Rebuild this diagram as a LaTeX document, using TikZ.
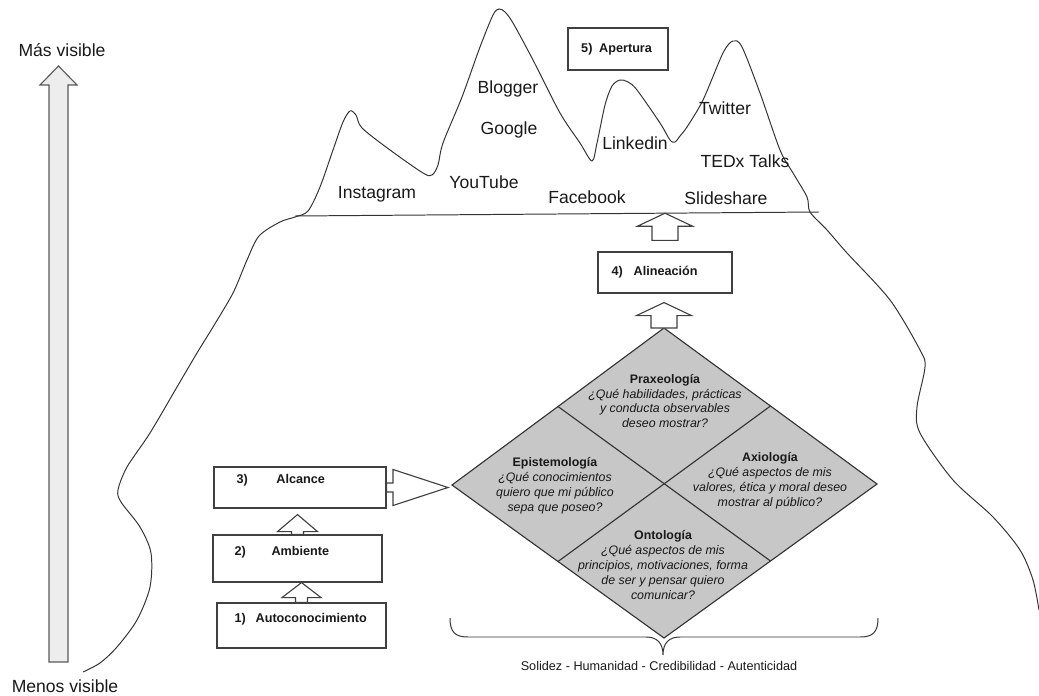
\documentclass[tikz,border=0pt]{standalone}
\usepackage{fontspec}
\setmainfont{Liberation Sans}
\usetikzlibrary{calc}

% block arrows: [style] base, tip, shaft half width, head half width, head length (px)
\newcommand{\blockup}[6][]{%
  \draw[blockarr,#1] let \p1=(#2), \p2=(#3), \n1={0.025cm} in
    (\x1-#4*\n1,\y1) -- (\x1-#4*\n1,\y2-#6*\n1) -- (\x1-#5*\n1,\y2-#6*\n1) -- (\x1,\y2)
    -- (\x1+#5*\n1,\y2-#6*\n1) -- (\x1+#4*\n1,\y2-#6*\n1) -- (\x1+#4*\n1,\y1) -- cycle;}
\newcommand{\blockright}[6][]{%
  \draw[blockarr,#1] let \p1=(#2), \p2=(#3), \n1={0.025cm} in
    (\x1,\y1+#4*\n1) -- (\x2-#6*\n1,\y1+#4*\n1) -- (\x2-#6*\n1,\y1+#5*\n1) -- (\x2,\y1)
    -- (\x2-#6*\n1,\y1-#5*\n1) -- (\x2-#6*\n1,\y1-#4*\n1) -- (\x1,\y1-#4*\n1) -- cycle;}

\begin{document}
\begin{tikzpicture}[x=0.025cm, y=-0.025cm,
    outline/.style={draw=black!80, line width=0.7pt},
    stage/.style={draw=black!75, line width=0.8pt, fill=white},
    steplab/.style={anchor=base west, inner sep=0pt, text=black!90, font=\fontsize{9}{11}\selectfont\bfseries},
    site/.style={text=black!90, font=\fontsize{12.5}{15}\selectfont},
    quad/.style={align=center, inner sep=0pt, text=black!90, font=\fontsize{8.8}{10.6}\selectfont\itshape},
    blockarr/.style={draw=black!75, line width=0.8pt, fill=white, line join=miter}]
  \useasboundingbox (0,0) rectangle (1039,696);

  % iceberg
  \draw[outline] plot[smooth, tension=0.5] coordinates {
    (83,672) (100,663) (117,647) (137,620) (150,587) (151,553) (140,527) (121,502)
    (118,490) (127,467) (150,433) (177,387) (197,353) (213,327) (233,293) (247,260)
    (259,236) (280,222) (295,217) (308,211) (320,187) (333,150) (343,122) (350,111)
    (356,115) (362,128) (390,150) (423,173) (432,175) (438,165) (443,143) (462,97)
    (480,47) (493,15) (499,9) (505,12) (513,23) (533,60) (560,113) (580,143) (592,161)
    (597,143) (605,105) (612,86) (620,80) (628,82) (637,90) (660,123) (670,140)
    (675,142) (680,136) (687,127) (703,100) (723,53) (733,41) (742,47) (760,93)
    (780,150) (793,173) (807,197) (810,212) (827,230) (847,253) (890,300) (920,350)
    (925,367) (917,407) (920,433) (953,480) (993,517) (1020,550) (1033,580) (1039,610)};
  \coordinate (wlA) at (295,216);
  \coordinate (wlB) at (819,212);
  \coordinate (sea) at (664,213.2);
  \draw[outline] (wlA) -- (wlB);

  \node[site] (insta) at (377,194) {Instagram};
  \node[site] (yt) at (484,182) {YouTube};
  \node[site] (blog) at (508,89) {Blogger};
  \node[site] (goog) at (509,130) {Google};
  \node[site] (fb) at (587,197) {Facebook};
  \node[site] (lin) at (635,143) {Linkedin};
  \node[site] (tw) at (725,108) {Twitter};
  \node[site] (ted) at (745,161) {TEDx Talks};
  \node[site] (slide) at (726,198) {Slideshare};

  % stages
  \node[stage, minimum width=4.225cm, minimum height=1.125cm] (b1) at (301.5,625.5) {};
  \node[stage, minimum width=4.225cm, minimum height=1.175cm] (b2) at (297.5,558.5) {};
  \node[stage, minimum width=4.3cm, minimum height=1.025cm] (b3) at (300,487.5) {};
  \node[stage, minimum width=3.35cm, minimum height=1.025cm] (b4) at (665,272.5) {};
  \node[stage, minimum width=2.5cm, minimum height=1.05cm] (b5) at (618,49) {};
  \node[steplab] (b1t) at ($(b1.north west)+(18,20.5)$) {1)\hspace{6.9pt}Autoconocimiento};
  \node[steplab] (b2t) at ($(b2.north west)+(22,21.5)$) {2)\hspace{18.2pt}Ambiente};
  \node[steplab] (b3t) at ($(b3.north west)+(23,17.5)$) {3)\hspace{20.3pt}Alcance};
  \node[steplab] (b4t) at ($(b4.north west)+(14,24)$) {4)\hspace{7.6pt}Alineación};
  \node[steplab] (b5t) at ($(b5.north west)+(13.5,25.5)$) {5)\hspace{4.8pt}Apertura};

  % diamond
  \coordinate (dT) at (664,328);
  \coordinate (dR) at (877,484);
  \coordinate (dB) at (664,638);
  \coordinate (dL) at (452,485);
  \filldraw[draw=black!80, line width=0.8pt, fill=black!22] (dT) -- (dR) -- (dB) -- (dL) -- cycle;
  \draw[draw=black!80, line width=0.8pt] ($(dT)!0.5!(dL)$) -- ($(dR)!0.5!(dB)$);
  \draw[draw=black!80, line width=0.8pt] ($(dT)!0.5!(dR)$) -- ($(dL)!0.5!(dB)$);
  \node[quad] (prax) at (665,401) {\textbf{\upshape Praxeología}\\¿Qué habilidades, prácticas\\y conducta observables\\deseo mostrar?};
  \node[quad] (epis) at (555,486) {\textbf{\upshape Epistemología}\\¿Qué conocimientos\\quiero que mi público\\sepa que poseo?};
  \node[quad] (axio) at (770,481) {\textbf{\upshape Axiología}\\¿Qué aspectos de mis\\valores, ética y moral deseo\\mostrar al público?};
  \node[quad] (onto) at (663,565) {\textbf{\upshape Ontología}\\¿Qué aspectos de mis\\principios, motivaciones, forma\\de ser y pensar quiero\\comunicar?};

  % arrows
  \blockup{b1.north}{b2.south}{6}{19.5}{15}
  \blockup{b2.north}{$(b3.south)+(0,6)$}{6}{20}{17}
  \blockright{b3.east}{$(dL)+(-4,0)$}{4.5}{18}{55}
  \blockup{dT}{$(b4.south)+(0,9)$}{13}{27.5}{13}
  \blockup{$(b4.north)+(0,-11)$}{sea}{13}{27.5}{13}

  % brace
  \coordinate (bL) at (450,618);
  \coordinate (bC) at (663,655);
  \coordinate (bR) at (878,618);
  \draw[outline] (bL) .. controls (450,632) and (455,637) .. (468,637) -- (646,637)
    .. controls (657,637) and (663,643) .. (bC) .. controls (663,643) and (669,637) .. (680,637)
    -- (860,637) .. controls (873,637) and (878,632) .. (bR);
  \node[text=black!90, font=\fontsize{9}{11}\selectfont] (valores) at (659,666) {Solidez - Humanidad - Credibilidad - Autenticidad};

  % visibility scale
  \coordinate (sBot) at (58.5,662);
  \coordinate (sTop) at (58.5,66);
  \blockup[fill=black!7, draw=black!65]{sBot}{sTop}{9.5}{18.5}{19}
  \node[site] (mas) at (62,50) {Más visible};
  \node[site] (menos) at (65,686) {Menos visible};
\end{tikzpicture}
\end{document}
